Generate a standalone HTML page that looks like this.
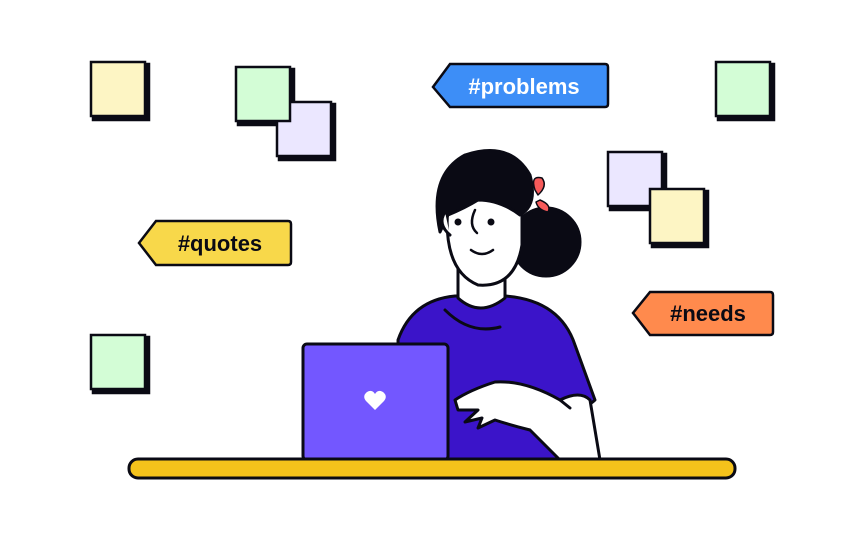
<!DOCTYPE html>
<html><head><style>body{margin:0;background:#fff}svg{display:block}</style></head><body>
<svg width="864" height="540" viewBox="0 0 864 540" xmlns="http://www.w3.org/2000/svg" font-family="Liberation Sans, sans-serif">
<rect width="864" height="540" fill="#fff"/>
<g stroke="#0a0a14" stroke-width="2.5">
<!-- notes: shadow then note -->
<g>
<rect x="93" y="64" width="56" height="56" fill="#0a0a14"/><rect x="91" y="62" width="54" height="54" fill="#fdf5c4"/>
<rect x="238" y="69" width="56" height="56" fill="#0a0a14"/>
<rect x="279" y="104" width="56" height="56" fill="#0a0a14"/><rect x="277" y="102" width="54" height="54" fill="#ebe7ff"/>
<rect x="236" y="67" width="54" height="54" fill="#d3fdd6"/>
<rect x="718" y="64" width="56" height="56" fill="#0a0a14"/><rect x="716" y="62" width="54" height="54" fill="#d3fdd6"/>
<rect x="610" y="154" width="56" height="56" fill="#0a0a14"/><rect x="608" y="152" width="54" height="54" fill="#ebe7ff"/>
<rect x="652" y="191" width="56" height="56" fill="#0a0a14"/><rect x="650" y="189" width="54" height="54" fill="#fdf5c4"/>
<rect x="93" y="337" width="56" height="56" fill="#0a0a14"/><rect x="91" y="335" width="54" height="54" fill="#d3fdd6"/>
</g>
<!-- tags -->
<path d="M450 64 L605 64 Q608 64 608 67 L608 104 Q608 107 605 107 L450 107 L433 87 Z" fill="#3d8ef7"/>
<path d="M156 221 L288 221 Q291 221 291 224 L291 262 Q291 265 288 265 L156 265 L139 243 Z" fill="#f8d84a"/>
<path d="M650 292 L770 292 Q773 292 773 295 L773 332 Q773 335 770 335 L650 335 L633 313 Z" fill="#ff8a4d"/>
</g>
<g font-weight="bold" font-size="22">
<text x="524" y="94" fill="#fff" text-anchor="middle">#problems</text>
<text x="220" y="251" fill="#0a0a14" text-anchor="middle">#quotes</text>
<text x="708" y="321" fill="#0a0a14" text-anchor="middle">#needs</text>
</g>
<g stroke="#0a0a14" stroke-width="3" stroke-linejoin="round" stroke-linecap="round">
<!-- bun -->
<circle cx="546" cy="242" r="34" fill="#0a0a14"/>
<path d="M535 190 Q530 175 542 178 Q548 186 538 195 Z" fill="#f65a5a" stroke-width="1.5"/>
<path d="M540 200 Q552 205 548 212 Q538 210 536 202 Z" fill="#f65a5a" stroke-width="1.5"/>
<!-- shirt -->
<path d="M398 340 Q412 300 455 296 L505 296 Q560 300 575 345 L595 400 Q585 410 570 405 L560 420 L560 460 L400 460 Z" fill="#3b14c9"/>
<!-- neck -->
<path d="M458 262 L458 298 Q480 318 505 298 L505 262 Z" fill="#fff"/>
<path d="M445 310 Q470 335 500 327" fill="none"/>
<!-- face -->
<path d="M448 205 Q442 270 478 285 Q515 288 522 245 L522 200 Q490 175 448 205 Z" fill="#fff"/>
<!-- hair -->
<path d="M440 232 Q428 175 465 155 Q510 140 530 175 Q538 205 520 215 Q500 200 478 200 Q465 208 448 215 Z" fill="#0a0a14"/>
<path d="M445 212 Q437 224 450 235" fill="#fff"/>
<circle cx="458" cy="222" r="2" fill="#0a0a14"/><circle cx="491" cy="222" r="2" fill="#0a0a14"/>
<path d="M475 210 Q468 225 477 233" fill="none" stroke-width="2.5"/>
<path d="M471 250 Q482 258 493 250" fill="none" stroke-width="2.5"/>
<!-- arm/hand -->
<path d="M455 400 Q470 390 495 382 Q525 380 560 400 Q580 390 590 400 L600 460 L560 460 Q540 440 530 430 Q510 425 495 420 L478 428 L482 418 L465 422 L478 410 L458 410 Z" fill="#fff"/>
<path d="M560 400 L570 408" fill="none"/>
<!-- laptop -->
<rect x="303" y="344" width="145" height="116" rx="4" fill="#7357ff"/>
<!-- table -->
<rect x="129" y="459" width="606" height="19" rx="9" fill="#f4c21b"/>
</g>
<path d="M375 410 L366 401 Q362 396 367 392 Q372 389 375 394 Q378 389 383 392 Q388 396 384 401 Z" fill="#fff"/>
</svg>
</body></html>
